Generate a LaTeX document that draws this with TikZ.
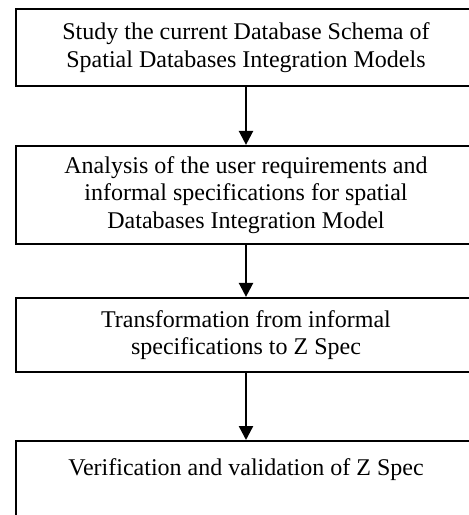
\documentclass[tikz,border=0pt]{standalone}
\usepackage{fontspec}
\setmainfont{Liberation Serif}
\usetikzlibrary{arrows.meta}
\tikzset{
  stagebox/.style={draw, line width=2.2pt, minimum width=460pt, inner sep=0pt, align=center, font=\fontsize{24}{27.5}\selectfont},
  flowarrow/.style={line width=2.4pt, -{Triangle[length=14pt,width=14pt]}}
}

\begin{document}
\begin{tikzpicture}[x=1pt,y=-1pt]
			%%%%% START %%%%%
			
			\useasboundingbox (0,0) rectangle (469,515);
			\clip (0,0) rectangle (469,515);
			
			\node[stagebox, minimum height=77pt] (study) at (246,47.5) {Study the current Database Schema of\\Spatial Databases Integration Models};
			\node[stagebox, minimum height=98pt] (analysis) at (246,195) {Analysis of the user requirements and\\informal specifications for spatial\\Databases Integration Model};
			\node[stagebox, minimum height=74pt] (transform) at (246,335) {Transformation from informal\\specifications to Z Spec};
			\node[stagebox, anchor=north, text height=17pt, text depth=80pt, inner ysep=17pt] (verify) at (246,440) {Verification and validation of Z Spec};
			
			\draw[flowarrow] (study) -- (analysis);
			\draw[flowarrow] (analysis) -- (transform);
			\draw[flowarrow] (transform) -- (verify);
			
			%%%%% END %%%%%
\end{tikzpicture}
\end{document}
